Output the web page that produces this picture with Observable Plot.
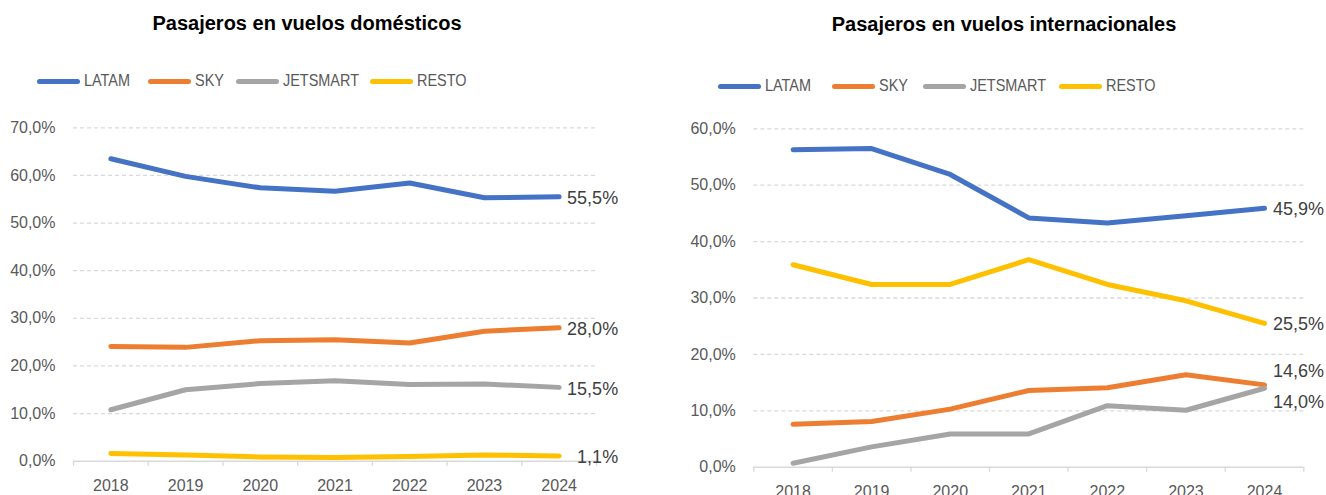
<!DOCTYPE html>
<html><head><meta charset="utf-8">
<script src="https://cdn.jsdelivr.net/npm/d3@7"></script>
<script src="https://cdn.jsdelivr.net/npm/@observablehq/plot@0.6"></script>
<style>
html,body{margin:0;padding:0;overflow:hidden;background:#fff;width:1326px;height:495px;}
.panel{position:absolute;top:0;height:495px;}
.title{position:absolute;font-family:"Liberation Sans",Arial,sans-serif;font-weight:bold;font-size:20px;color:#000;white-space:nowrap;transform:translate(-50%,-50%);}
.item{position:absolute;display:flex;align-items:center;transform:translateY(-50%);font-family:"Liberation Sans",Arial,sans-serif;font-size:17px;color:#595959;white-space:nowrap;}
.item span{display:inline-block;transform:scaleX(0.85);transform-origin:0 50%;}
.sw{width:43px;height:5px;border-radius:3px;margin-right:4px;}
.chart{position:absolute;top:100px;left:0;}
</style></head><body>
<div id="left" class="panel" style="left:0;width:660px"></div>
<div id="right" class="panel" style="left:660px;width:666px"></div>
<script>
const years = [2018, 2019, 2020, 2021, 2022, 2023, 2024];
const airlines = ["LATAM", "SKY", "JETSMART", "RESTO"];
const colors = ["#4472C4", "#ED7D31", "#A5A5A5", "#FFC000"];

const domTitle = "Pasajeros en vuelos domésticos";
const domLATAM = [63.5, 59.8, 57.4, 56.7, 58.4, 55.3, 55.5];
const domSKY = [24.1, 23.9, 25.3, 25.5, 24.8, 27.3, 28.0];
const domJETSMART = [10.8, 15.0, 16.3, 16.9, 16.1, 16.2, 15.5];
const domRESTO = [1.6, 1.3, 0.9, 0.8, 1.0, 1.3, 1.1];
const domTicks = [0, 10, 20, 30, 40, 50, 60, 70];

const intTitle = "Pasajeros en vuelos internacionales";
const intLATAM = [56.3, 56.5, 51.9, 44.2, 43.3, 44.6, 45.9];
const intSKY = [7.6, 8.1, 10.3, 13.6, 14.1, 16.4, 14.6];
const intJETSMART = [0.7, 3.6, 5.9, 5.9, 10.9, 10.1, 14.0];
const intRESTO = [35.9, 32.4, 32.4, 36.8, 32.4, 29.5, 25.5];
const intTicks = [0, 10, 20, 30, 40, 50, 60];

const fmt = v => v.toFixed(1).replace(".", ",") + "%";

function rows(seriesArrays) {
  const out = [];
  airlines.forEach((a, i) => years.forEach((y, j) => out.push({year: y, airline: a, value: seriesArrays[i][j]})));
  return out;
}

function buildPanel(el, cfg) {
  const t = document.createElement("div");
  t.className = "title";
  t.textContent = cfg.title;
  t.style.left = cfg.titleX + "px";
  t.style.top = cfg.titleY + "px";
  el.appendChild(t);

  airlines.forEach((a, i) => {
    const it = document.createElement("div");
    it.className = "item";
    it.style.left = cfg.legendXs[i] + "px";
    it.style.top = cfg.legendY + "px";
    const sw = document.createElement("div");
    sw.className = "sw";
    sw.style.background = colors[i];
    const tx = document.createElement("span");
    tx.textContent = a;
    it.appendChild(sw); it.appendChild(tx);
    el.appendChild(it);
  });

  const data = rows(cfg.series);
  const last = data.filter(d => d.year === years[years.length - 1]);
  const bounds = years.map(y => y - 0.5).concat([years[years.length - 1] + 0.5]);
  const ymax = cfg.ticks[cfg.ticks.length - 1];

  const labelMarks = airlines.map(a => Plot.text(last.filter(d => d.airline === a), {
    x: "year", y: "value", text: d => fmt(d.value),
    dx: cfg.labelDx, dy: cfg.labelDy[a], textAnchor: cfg.labelAnchor, fill: "#404040", fontSize: 18
  }));

  const chart = Plot.plot({
    width: cfg.width, height: 395,
    marginLeft: cfg.ml, marginRight: cfg.mr, marginTop: cfg.mt, marginBottom: cfg.mb,
    style: {fontFamily: "'Liberation Sans', Arial, sans-serif", fontSize: "16px", background: "transparent", overflow: "visible"},
    x: {domain: [bounds[0], bounds[bounds.length - 1]], label: null},
    y: {domain: [0, ymax], label: null},
    color: {domain: airlines, range: colors},
    marks: [
      Plot.ruleY(cfg.ticks.filter(v => v > 0), {stroke: "#d9d9d9", strokeWidth: 1.3, strokeDasharray: "4,3"}),
      Plot.ruleY([0], {stroke: "#d9d9d9", strokeWidth: 1.5}),
      Plot.axisX({ticks: bounds, tickSize: 5, tickFormat: () => "", stroke: "#d9d9d9", strokeWidth: 1.3, label: null}),
      Plot.axisX({ticks: years, tickSize: 0, tickPadding: 18, tickFormat: d => String(d), fill: "#595959", fontSize: 16, label: null}),
      Plot.axisY({ticks: cfg.ticks, tickSize: 0, tickPadding: 18, tickFormat: fmt, fill: "#595959", fontSize: 16, label: null}),
      Plot.line(data, {x: "year", y: "value", z: "airline", stroke: "airline", strokeWidth: 5, strokeLinecap: "round", strokeLinejoin: "round"}),
      ...labelMarks
    ]
  });
  chart.classList.add("chart");
  el.appendChild(chart);
}

buildPanel(document.getElementById("left"), {
  title: domTitle, titleX: 307, titleY: 23, legendXs: [37, 148, 236, 370], legendY: 81,
  series: [domLATAM, domSKY, domJETSMART, domRESTO], ticks: domTicks,
  width: 660, ml: 73, mr: 64, mt: 27.3, mb: 34.3,
  labelDx: 59, labelAnchor: "end", labelDy: {LATAM: 1.5, SKY: 1.5, JETSMART: 1.5, RESTO: 1.5}
});
buildPanel(document.getElementById("right"), {
  title: intTitle, titleX: 344, titleY: 24, legendXs: [58, 172, 263, 399], legendY: 86,
  series: [intLATAM, intSKY, intJETSMART, intRESTO], ticks: intTicks,
  width: 666, ml: 93.3, mr: 22.7, mt: 28.3, mb: 28.3,
  labelDx: 8.5, labelAnchor: "start", labelDy: {LATAM: 1, SKY: -14, JETSMART: 14, RESTO: 1}
});
</script>
</body></html>
